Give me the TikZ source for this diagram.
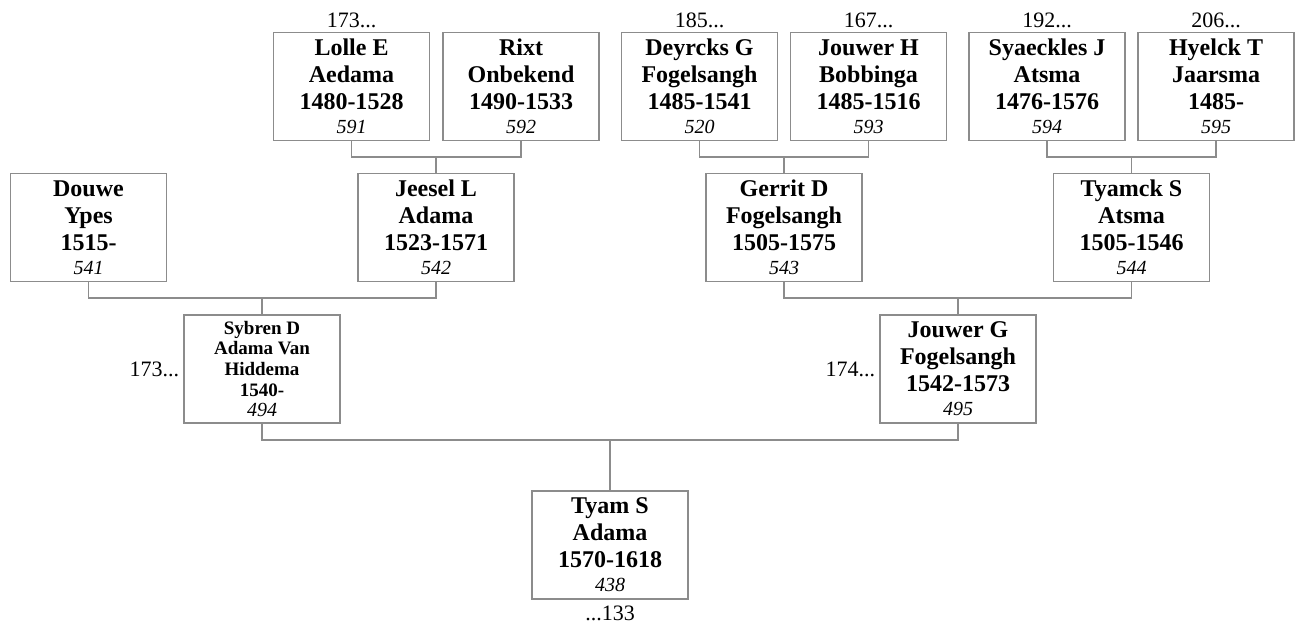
\documentclass[tikz,border=0pt]{standalone}
\usepackage{fontspec}
\setmainfont{Liberation Serif}

\begin{document}
\begin{tikzpicture}[
    x=0.5pt, y=-0.5pt,
    person/.style={rectangle, draw=black!45, line width=0.6pt, fill=white,
        minimum width=78pt, minimum height=54pt, inner sep=0pt, align=center,
        font={\fontsize{12}{13.5}\selectfont\bfseries}},
    small/.style={font={\fontsize{9.5}{10.3}\selectfont\bfseries}},
    more/.style={font={\fontsize{11}{13}\selectfont}, inner sep=2pt},
    link/.style={draw=black!45, line width=0.6pt}
]
\newcommand{\idno}[1]{{\mdseries\itshape\fontsize{10}{10}\selectfont #1}}

% frame
\useasboundingbox (0,0) rectangle (1300,628);

% Generation 4 (great-grandparents)
\node[person, label={[more]above:173...}] (lolle)     at (351.5, 86.5) {Lolle E\\Aedama\\1480-1528\\[-1.5pt]\idno{591}};
\node[person]                              (rixt)      at (521, 86.5)   {Rixt\\Onbekend\\1490-1533\\[-1.5pt]\idno{592}};
\node[person, label={[more]above:185...}] (deyrcks)   at (699.5, 86.5) {Deyrcks G\\Fogelsangh\\1485-1541\\[-1.5pt]\idno{520}};
\node[person, label={[more]above:167...}] (jouwerh)   at (868.5, 86.5) {Jouwer H\\Bobbinga\\1485-1516\\[-1.5pt]\idno{593}};
\node[person, label={[more]above:192...}] (syaeckles) at (1047, 86.5)  {Syaeckles J\\Atsma\\1476-1576\\[-1.5pt]\idno{594}};
\node[person, label={[more]above:206...}] (hyelck)    at (1216, 86.5)  {Hyelck T\\Jaarsma\\1485-\\[-1.5pt]\idno{595}};

% Generation 3 (grandparents)
\node[person] (douwe)  at (88.5, 227.5)   {Douwe\\Ypes\\1515-\\[-1.5pt]\idno{541}};
\node[person] (jeesel) at (436, 227.5)    {Jeesel L\\Adama\\1523-1571\\[-1.5pt]\idno{542}};
\node[person] (gerrit) at (784, 227.5)    {Gerrit D\\Fogelsangh\\1505-1575\\[-1.5pt]\idno{543}};
\node[person] (tyamck) at (1131.5, 227.5) {Tyamck S\\Atsma\\1505-1546\\[-1.5pt]\idno{544}};

% Generation 2 (parents)
\node[person, small, label={[more]left:173...}] (sybren) at (262, 369) {Sybren D\\Adama Van\\Hiddema\\1540-\\\idno{494}};
\node[person, label={[more]left:174...}] (jouwerg) at (958, 369) {Jouwer G\\Fogelsangh\\1542-1573\\[-1.5pt]\idno{495}};

% Generation 1
\node[person, label={[more, inner sep=3pt]below:...133}] (tyam) at (610, 545) {Tyam S\\Adama\\1570-1618\\[-1.5pt]\idno{438}};

% Connectors
\coordinate (f1) at (jeesel.north |- 0,157);
\draw[link] (lolle.south) |- (f1) -| (rixt.south);
\draw[link] (f1) -- (jeesel.north);

\coordinate (f2) at (gerrit.north |- 0,157);
\draw[link] (deyrcks.south) |- (f2) -| (jouwerh.south);
\draw[link] (f2) -- (gerrit.north);

\coordinate (f3) at (tyamck.north |- 0,157);
\draw[link] (syaeckles.south) |- (f3) -| (hyelck.south);
\draw[link] (f3) -- (tyamck.north);

\coordinate (f4) at (sybren.north |- 0,298);
\draw[link] (douwe.south) |- (f4) -| (jeesel.south);
\draw[link] (f4) -- (sybren.north);

\coordinate (f5) at (jouwerg.north |- 0,298);
\draw[link] (gerrit.south) |- (f5) -| (tyamck.south);
\draw[link] (f5) -- (jouwerg.north);

\coordinate (f6) at (tyam.north |- 0,440);
\draw[link] (sybren.south) |- (f6) -| (jouwerg.south);
\draw[link] (f6) -- (tyam.north);

\end{tikzpicture}
\end{document}
